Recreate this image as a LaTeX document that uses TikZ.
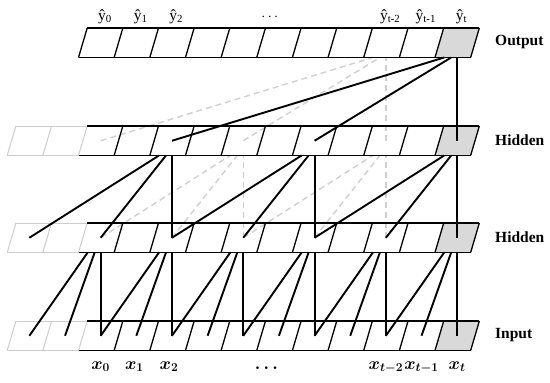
\documentclass[tikz,border=0pt]{standalone}
\usepackage{fontspec}
\setmainfont{Liberation Serif}
\usepackage{amsmath}
\usepackage{bm}
\usetikzlibrary{calc}
\definecolor{cellfill}{RGB}{217,217,217}
\definecolor{ghost}{RGB}{205,205,205}
\definecolor{dashc}{RGB}{208,208,208}
\begin{document}
\begin{tikzpicture}[x=1pt,y=-1pt,
  cellline/.style={line width=1.3pt,black},
  ghostline/.style={line width=1pt,ghost},
  link/.style={line width=1.9pt,black},
  faint/.style={line width=1.4pt,dashc,dash pattern=on 6pt off 4pt},
  ylab/.style={anchor=base,font=\fontsize{15.5}{18}\selectfont,inner sep=0pt},
  xlab/.style={anchor=base,font=\fontsize{17}{19}\selectfont,inner sep=0pt},
  layerlab/.style={anchor=west,font=\fontsize{15.5}{18}\selectfont\bfseries,inner sep=0pt},
]
\useasboundingbox (0,0) rectangle (550,383);
\def\W{35.65}\def\S{8.7}\def\H{29.5}\def\X{78.5}

% cell centres of every row
\foreach \r/\t in {o/28, hA/126, hB/223, in/321} {
  \foreach \i in {-2,...,10} {
    \coordinate (\r\i) at ({\X+(\i+0.5)*\W+\S/2},{\t+\H/2});
  }
}

% grey last cells
\foreach \r/\t in {o/28, hA/126, hB/223, in/321} {
  \fill[cellfill] ({\X+10*\W},{\t+\H}) -- ({\X+11*\W},{\t+\H})
    -- ({\X+11*\W+\S},\t) -- ({\X+10*\W+\S},\t) -- cycle;
}

% dashed (unused) connections
\foreach \T/\Sr/\d/\j in {o/hA/4/8, hA/hB/2/4, hA/hB/2/8} {
  \pgfmathtruncatemacro\fa{\j-2*\d}
  \pgfmathtruncatemacro\na{\j-\d}
  \draw[faint] (\Sr\fa) -- ($(\T\j)+(-13,\H/2)$);
  \draw[faint] (\Sr\na) -- ($(\T\j)+(-6,\H/2)$);
  \draw[faint] (\Sr\j) -- ($(\T\j)+(0,\H/2)$);
}

% ghost cells
\foreach \t in {126,223,321} {
  \draw[ghostline] ({\X-2*\W+\S},\t) -- ({\X+\S},\t);
  \draw[ghostline] ({\X-2*\W},{\t+\H}) -- (\X,{\t+\H});
  \foreach \i in {-2,-1,0} {
    \draw[ghostline] ({\X+\i*\W},{\t+\H}) -- ({\X+\i*\W+\S},\t);
  }
}

% main rows
\foreach \t/\first in {28/0, 126/1, 223/1, 321/1} {
  \draw[cellline] ({\X+\S},\t) -- ({\X+11*\W+\S},\t);
  \draw[cellline] (\X,{\t+\H}) -- ({\X+11*\W},{\t+\H});
  \foreach \i in {\first,...,11} {
    \draw[cellline] ({\X+\i*\W},{\t+\H}) -- ({\X+\i*\W+\S},\t);
  }
}

% solid connections
\foreach \T/\Sr/\d/\j in {o/hA/4/10, hA/hB/2/2, hA/hB/2/6, hA/hB/2/10,
    hB/in/1/0, hB/in/1/2, hB/in/1/4, hB/in/1/6, hB/in/1/8, hB/in/1/10} {
  \pgfmathtruncatemacro\fa{\j-2*\d}
  \pgfmathtruncatemacro\na{\j-\d}
  \draw[link] (\Sr\fa) -- ($(\T\j)+(-13,\H/2)$);
  \draw[link] (\Sr\na) -- ($(\T\j)+(-6,\H/2)$);
  \draw[link] (\Sr\j) -- ($(\T\j)+(0,\H/2)$);
}

% output labels
\foreach \i/\s in {0/0, 1/1, 2/2, 8/t-2, 9/t-1, 10/t} {
  \node[ylab] (yl\i) at ({\X+(\i+0.5)*\W+\S},20.5) {ŷ\textsubscript{\s}};
}
\node[ylab] (ydots) at (271,20) {$\cdots$};

% input labels
\node[xlab] (xl0) at ($(in0)+(0,33.5)$) {$\bm{x_{0}}$};
\node[xlab] (xl1) at ($(in1)+(-2,33.5)$) {$\bm{x_{1}}$};
\node[xlab] (xl2) at ($(in2)+(-3,33.5)$) {$\bm{x_{2}}$};
\node[xlab] (xl8) at ($(in8)+(0,33.5)$) {$\bm{x_{t-2}}$};
\node[xlab] (xl9) at ($(in9)+(0,33.5)$) {$\bm{x_{t-1}}$};
\node[xlab] (xl10) at ($(in10)+(0,33.5)$) {$\bm{x_{t}}$};
\node[xlab] (xdots) at (268,372) {$\bm{\cdots}$};

% layer names
\node[layerlab] (lout) at (495,42) {Output};
\node[layerlab] (lh1) at (495,140.5) {Hidden};
\node[layerlab] (lh2) at (495,237.5) {Hidden};
\node[layerlab] (lin) at (495,335.5) {Input};
\end{tikzpicture}
\end{document}
